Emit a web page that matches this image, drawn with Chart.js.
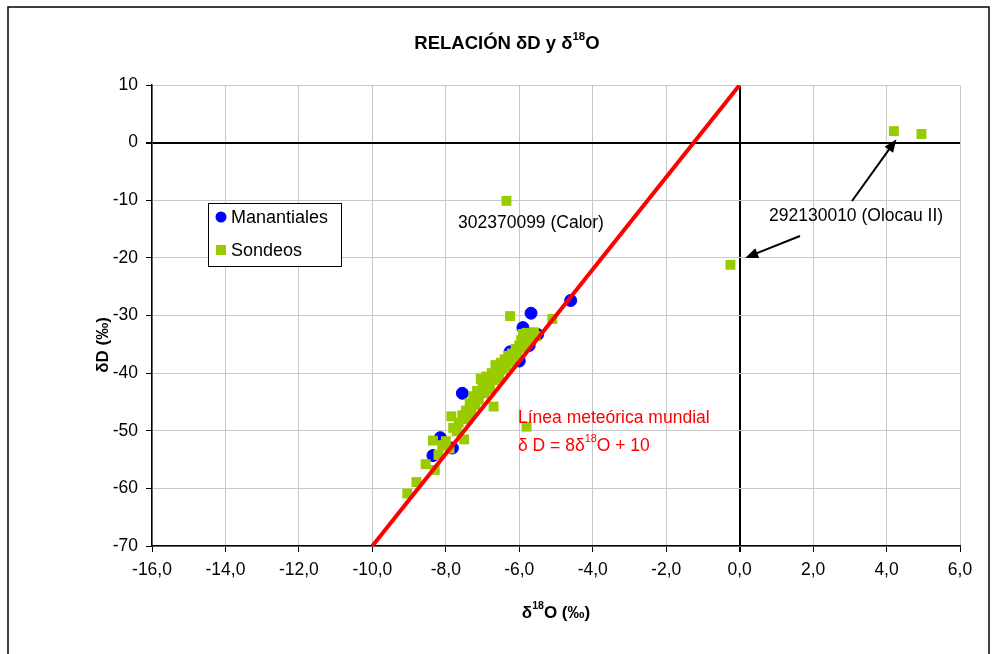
<!DOCTYPE html>
<html>
<head>
<meta charset="utf-8">
<script src="https://cdn.jsdelivr.net/npm/chart.js@4.4.1/dist/chart.umd.min.js"></script>
<style>
  body { margin: 0; background: #fff; }
  #wrap { width: 997px; height: 654px; position: relative; }
</style>
</head>
<body>
<div id="wrap"><canvas id="isoChart" width="997" height="654"></canvas></div>
<script>
// axis ranges / ticks
const xTicks = [-16, -14, -12, -10, -8, -6, -4, -2, 0, 2, 4, 6];
const yTicks = [-70, -60, -50, -40, -30, -20, -10, 0, 10];

// Manantiales (springs)
const manantialesO18 = [-4.6, -5.68, -5.9, -5.5, -5.73, -6.0, -6.25, -6.1, -7.55, -7.35, -8.15, -7.82, -8.35];
const manantialesD   = [-27.4, -29.6, -32.1, -33.3, -35.2, -37.9, -36.3, -37.5, -43.5, -47.0, -51.2, -53.0, -54.3];

// Sondeos (boreholes)
const sondeosO18 = [
  -9.05, -8.8, -8.55, -8.3, -8.35, -8.2, -8.1, -8.0, -7.9, -7.85,
  -7.8, -7.7, -7.65, -7.55, -7.5, -7.45, -7.4, -7.35, -7.3, -7.25,
  -7.2, -7.15, -7.1, -7.05, -7.0, -6.95, -6.9, -6.85, -6.8, -6.75,
  -6.7, -6.7, -6.65, -6.6, -6.55, -6.5, -6.45, -6.4, -6.35, -6.3,
  -6.25, -6.2, -6.15, -6.1, -6.05, -6.0, -5.95, -5.9, -5.9, -5.85,
  -5.8, -5.8, -5.75, -5.7, -5.65, -5.6, -5.55, -6.25, -5.1, -5.8,
  -6.35, -0.25, 4.2, 4.95
];
const sondeosD = [
  -60.9, -58.9, -55.8, -56.8, -51.7, -54.2, -52.5, -51.8, -53.1, -47.5,
  -49.5, -50.1, -48.6, -47.3, -51.5, -46.5, -48.0, -45.2, -46.8, -44.0,
  -45.5, -43.1, -44.6, -41.0, -42.3, -43.5, -40.6, -41.8, -42.8, -40.0,
  -41.2, -45.8, -38.6, -39.8, -40.9, -38.2, -39.4, -37.6, -38.8, -37.0,
  -38.1, -36.6, -37.4, -35.8, -36.9, -35.2, -34.3, -33.2, -35.6, -34.0,
  -33.0, -35.0, -34.2, -33.1, -33.8, -32.9, -33.6, -30.1, -30.6, -49.3,
  -10.1, -21.2, 2.0, 1.5
];

// Línea meteórica mundial: dD = 8 d18O + 10
const gmwlO18 = [-10, 0];
const gmwlD = [-70, 10];

const toPoints = (xs, ys) => xs.map((x, i) => ({ x: x, y: ys[i] }));

const FONT = "'Liberation Sans', Arial, sans-serif";

// draws text with superscript parts: segs = [[text, isSup], ...]
function richText(ctx, segs, x, y, size, bold, color, align) {
  ctx.save();
  ctx.fillStyle = color;
  ctx.textBaseline = "middle";
  ctx.textAlign = "left";
  const w = (s) => {
    ctx.font = (bold ? "bold " : "") + (s[1] ? size * 0.62 : size) + "px " + FONT;
    return ctx.measureText(s[0]).width;
  };
  let total = 0;
  segs.forEach((s) => (total += w(s)));
  let cx = align === "center" ? x - total / 2 : x;
  segs.forEach((s) => {
    const ww = w(s);
    ctx.fillText(s[0], cx, s[1] ? y - size * 0.38 : y);
    cx += ww;
  });
  ctx.restore();
}

function arrow(ctx, x1, y1, x2, y2) {
  const ang = Math.atan2(y2 - y1, x2 - x1);
  const len = 14, spread = 0.38;
  ctx.save();
  ctx.strokeStyle = "#000";
  ctx.fillStyle = "#000";
  ctx.lineWidth = 2;
  ctx.beginPath();
  ctx.moveTo(x1, y1);
  ctx.lineTo(x2 - Math.cos(ang) * 8, y2 - Math.sin(ang) * 8);
  ctx.stroke();
  ctx.beginPath();
  ctx.moveTo(x2, y2);
  ctx.lineTo(x2 - len * Math.cos(ang - spread), y2 - len * Math.sin(ang - spread));
  ctx.lineTo(x2 - len * Math.cos(ang + spread), y2 - len * Math.sin(ang + spread));
  ctx.closePath();
  ctx.fill();
  ctx.restore();
}

// titles, legend box, labels and arrows
const decorations = {
  id: "decorations",
  afterDraw(chart) {
    const ctx = chart.ctx;
    const xs = chart.scales.x, ys = chart.scales.y;

    // outer frame
    ctx.save();
    ctx.strokeStyle = "#000";
    ctx.lineWidth = 1.5;
    ctx.strokeRect(8, 7, 981, 700);
    ctx.restore();

    richText(ctx, [["RELACIÓN δD y δ", false], ["18", true], ["O", false]], 507, 44, 18.5, true, "#000", "center");
    richText(ctx, [["δ", false], ["18", true], ["O (‰)", false]], 556, 613, 17, true, "#000", "center");

    ctx.save();
    ctx.translate(103, 345);
    ctx.rotate(-Math.PI / 2);
    richText(ctx, [["δD (‰)", false]], 0, 0, 17, true, "#000", "center");
    ctx.restore();

    // legend
    ctx.save();
    ctx.fillStyle = "#fff";
    ctx.fillRect(208, 203, 133, 63);
    ctx.strokeStyle = "#000";
    ctx.lineWidth = 1;
    ctx.strokeRect(208.5, 203.5, 133, 63);
    ctx.fillStyle = "#0000ff";
    ctx.beginPath();
    ctx.arc(221, 217, 5.5, 0, Math.PI * 2);
    ctx.fill();
    ctx.fillStyle = "#99cc00";
    ctx.fillRect(216, 245, 10, 10);
    ctx.restore();
    richText(ctx, [["Manantiales", false]], 231, 218, 18, false, "#000", "left");
    richText(ctx, [["Sondeos", false]], 231, 251, 18, false, "#000", "left");

    // sample labels
    richText(ctx, [["302370099 (Calor)", false]], 458, 223, 17.5, false, "#000", "left");
    richText(ctx, [["292130010 (Olocau II)", false]], 769, 216, 17.5, false, "#000", "left");
    arrow(ctx, 852, 201, xs.getPixelForValue(4.27), ys.getPixelForValue(0.6));
    arrow(ctx, 800, 236, xs.getPixelForValue(0.15), ys.getPixelForValue(-20.0));

    // meteoric line label
    richText(ctx, [["Línea meteórica mundial", false]], 518, 418, 17.5, false, "#ff0000", "left");
    richText(ctx, [["δ D = 8δ", false], ["18", true], ["O + 10", false]], 518, 446, 17.5, false, "#ff0000", "left");
  },
};

const ctx = document.getElementById("isoChart").getContext("2d");
const isoChart = new Chart(ctx, {
  type: "scatter",
  data: {
    datasets: [
      {
        label: "Línea meteórica mundial",
        type: "line",
        data: toPoints(gmwlO18, gmwlD),
        borderColor: "#ff0000",
        borderWidth: 4,
        pointRadius: 0,
        fill: false,
        order: 0,
      },
      {
        label: "Manantiales",
        data: toPoints(manantialesO18, manantialesD),
        backgroundColor: "#0000ff",
        borderColor: "#0000ff",
        pointStyle: "circle",
        pointRadius: 6,
        order: 2,
      },
      {
        label: "Sondeos",
        data: toPoints(sondeosO18, sondeosD),
        backgroundColor: "#99cc00",
        borderColor: "#99cc00",
        pointStyle: "rect",
        pointRadius: 7,
        borderWidth: 0,
        order: 1,
      },
    ],
  },
  options: {
    responsive: false,
    animation: false,
    layout: { padding: { top: 85, right: 37, left: 0, bottom: 0 } },
    plugins: {
      legend: { display: false },
      title: { display: false },
      tooltip: { enabled: false },
    },
    scales: {
      x: {
        type: "linear",
        min: xTicks[0],
        max: xTicks[xTicks.length - 1],
        afterBuildTicks: (scale) => {
          scale.ticks = xTicks.map((v) => ({ value: v }));
        },
        afterFit: (scale) => {
          scale.height = 108;
        },
        ticks: {
          color: "#000",
          font: { family: FONT, size: 17.5 },
          padding: 8,
          maxRotation: 0,
          callback: (v) => v.toFixed(1).replace(".", ","),
        },
        grid: {
          color: (c) => (c.tick && c.tick.value === 0 ? "#000" : "#c8c8c8"),
          lineWidth: (c) => (c.tick && c.tick.value === 0 ? 2 : 1),
          tickColor: "#000",
          tickLength: 6,
        },
        border: { color: "#000", width: 1.5 },
      },
      y: {
        type: "linear",
        min: yTicks[0],
        max: yTicks[yTicks.length - 1],
        afterBuildTicks: (scale) => {
          scale.ticks = yTicks.map((v) => ({ value: v }));
        },
        afterFit: (scale) => {
          scale.width = 152;
        },
        ticks: {
          color: "#000",
          font: { family: FONT, size: 17.5 },
          padding: 8,
        },
        grid: {
          color: (c) => (c.tick && c.tick.value === 0 ? "#000" : "#c8c8c8"),
          lineWidth: (c) => (c.tick && c.tick.value === 0 ? 2 : 1),
          tickColor: "#000",
          tickLength: 6,
        },
        border: { color: "#000", width: 1.5 },
      },
    },
  },
  plugins: [decorations],
});
</script>
</body>
</html>
